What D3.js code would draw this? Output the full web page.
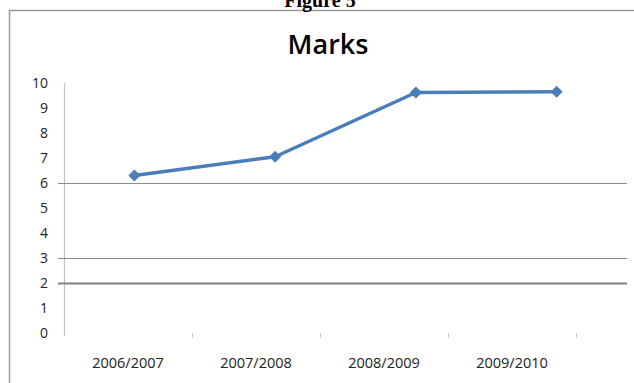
<!DOCTYPE html>
<html>
<head>
<meta charset="utf-8">
<script src="https://cdn.jsdelivr.net/npm/d3@7"></script>
<style>
  html, body { margin: 0; padding: 0; background: #fff; }
  svg { display: block; }
</style>
</head>
<body>
<svg id="chart" width="634" height="383"></svg>
<script>
const categories = ["2006/2007", "2007/2008", "2008/2009", "2009/2010"];
const marks = [6.3, 7.05, 9.62, 9.65];
const yTicks = [0, 1, 2, 3, 4, 5, 6, 7, 8, 9, 10];
const gridValues = [6, 3, 2];
const titleText = "Marks";
const figureText = "Figure 5";

const svg = d3.select("#chart");
const font = "'Open Sans', 'Noto Sans', sans-serif";

// outer frame (partially cropped)
svg.append("path")
  .attr("d", "M9.5,390 L9.5,10.5 L640,10.5")
  .attr("fill", "none").attr("stroke", "#9a9a9a").attr("stroke-width", 1.5);

// Figure caption, cropped at the top as in the source
svg.append("text")
  .attr("x", 320).attr("y", 7)
  .attr("text-anchor", "middle")
  .attr("font-family", "'Liberation Serif', 'Times New Roman', serif")
  .attr("font-weight", "bold").attr("font-size", 20)
  .text(figureText);

// title
svg.append("text")
  .attr("x", 328).attr("y", 54)
  .attr("text-anchor", "middle")
  .attr("font-family", font)
  .attr("font-weight", 600)
  .attr("font-size", 27).attr("fill", "#000")
  .text(titleText);

const y = d3.scaleLinear().domain([0, 10]).range([333, 83]);
const xAxisScale = d3.scaleBand().domain(categories).range([64, 576]);
const xLineScale = d3.scaleBand().domain(categories).range([64, 627]);

// y labels
svg.append("g").selectAll("text").data(yTicks).join("text")
  .attr("x", 48).attr("y", d => y(d))
  .attr("dy", "0.36em")
  .attr("text-anchor", "end")
  .attr("font-family", font).attr("font-size", 14).attr("fill", "#222")
  .text(d => d);

// y axis line
svg.append("line")
  .attr("x1", 64.5).attr("x2", 64.5)
  .attr("y1", y(10)).attr("y2", y(0) + 3)
  .attr("stroke", "#c4c4c4").attr("stroke-width", 1.2);

// horizontal reference lines
svg.append("g").selectAll("line").data(gridValues).join("line")
  .attr("x1", 58).attr("x2", 627)
  .attr("y1", d => Math.round(y(d)) + 0.5).attr("y2", d => Math.round(y(d)) + 0.5)
  .attr("stroke", d => d === 2 ? "#808080" : "#8c8c8c")
  .attr("stroke-width", d => d === 2 ? 2 : 1.2);

// x ticks
svg.append("g").selectAll("line").data(categories).join("line")
  .attr("x1", d => xAxisScale(d) + xAxisScale.bandwidth() + 0.5)
  .attr("x2", d => xAxisScale(d) + xAxisScale.bandwidth() + 0.5)
  .attr("y1", y(0)).attr("y2", y(0) + 5)
  .attr("stroke", "#c8c8c8").attr("stroke-width", 1);

// x labels
svg.append("g").selectAll("text").data(categories).join("text")
  .attr("x", d => xAxisScale(d) + xAxisScale.bandwidth() / 2)
  .attr("y", 368)
  .attr("text-anchor", "middle")
  .attr("font-family", font).attr("font-size", 14.5).attr("fill", "#222")
  .text(d => d);

// line
const pts = categories.map((c, i) => [xLineScale(c) + xLineScale.bandwidth() / 2, y(marks[i])]);
svg.append("path")
  .attr("d", d3.line()(pts))
  .attr("fill", "none").attr("stroke", "#4a7ebb").attr("stroke-width", 3.5)
  .attr("stroke-linejoin", "round");

// diamond markers
svg.append("g").selectAll("path").data(pts).join("path")
  .attr("transform", d => `translate(${d[0]},${d[1]})`)
  .attr("d", "M0,-6 L6,0 L0,6 L-6,0 Z")
  .attr("fill", "#4a7ebb");
</script>
</body>
</html>
